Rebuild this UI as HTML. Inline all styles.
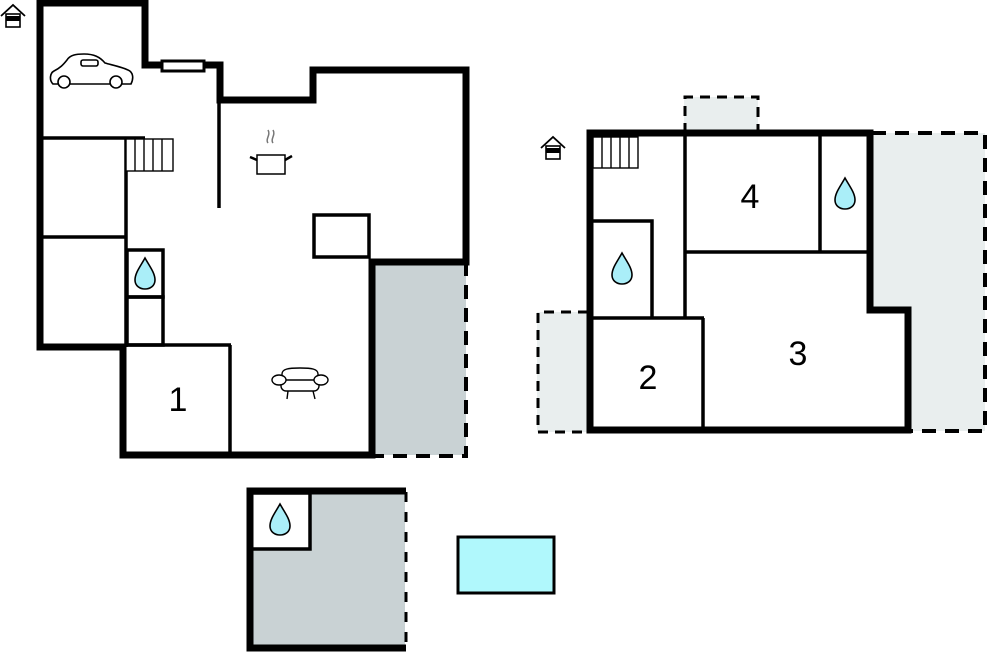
<!DOCTYPE html>
<html><head><meta charset="utf-8"><style>
html,body{margin:0;padding:0;background:#fff;}
svg{display:block;}
text{font-family:"Liberation Sans",sans-serif;}
</style></head><body>
<svg width="989" height="652" viewBox="0 0 989 652" xmlns="http://www.w3.org/2000/svg">
<defs>
<g id="drop"><path d="M0,-17 C5,-8 10,-2 10,5 C10,11 5,14 0,14 C-5,14 -10,11 -10,5 C-10,-2 -5,-8 0,-17Z" fill="#aaeef8" stroke="#000" stroke-width="1.6"/></g>
<g id="house"><path d="M-12,-1 L0,-12 L12,-1" fill="none" stroke="#000" stroke-width="1.8"/><rect x="-7" y="-3" width="14" height="13" fill="#fff" stroke="#000" stroke-width="1.6"/><rect x="-7" y="-1" width="14" height="5" fill="#000"/></g>
</defs>

<rect x="374" y="261" width="92" height="194" fill="#c9d2d4"/>
<path d="M466,262 V456 H374" fill="none" stroke="#000" stroke-width="4" stroke-dasharray="14,9"/>

<g stroke="#000" stroke-width="3.5" fill="none">
<line x1="40" y1="138" x2="145" y2="138"/>
<line x1="126" y1="138" x2="126" y2="347"/>
<line x1="40" y1="237" x2="126" y2="237"/>
<rect x="127" y="250" width="36" height="47"/>
<rect x="127" y="297" width="36" height="48"/>
<line x1="125" y1="345" x2="231" y2="345"/>
<line x1="230" y1="345" x2="230" y2="455"/>
<line x1="219" y1="100" x2="219" y2="208"/>
<rect x="314" y="215" width="55" height="42"/>
</g>
<g stroke="#000" stroke-width="1.4" fill="#fff">
<rect x="126" y="139" width="47" height="32"/>
<line x1="135" y1="139" x2="135" y2="171"/><line x1="144" y1="139" x2="144" y2="171"/><line x1="153" y1="139" x2="153" y2="171"/><line x1="162" y1="139" x2="162" y2="171"/>
</g>
<path d="M204,65 H220 V100 H313 V70 H466 V262 H372 V455 H123 V347 H40 V3 H145 V65 H162" fill="none" stroke="#000" stroke-width="7" stroke-linejoin="miter" stroke-linecap="square"/>
<rect x="162" y="61" width="42" height="10" fill="#fff" stroke="#000" stroke-width="3"/>
<use href="#drop" x="145" y="275"/>

<g fill="none" stroke="#000" stroke-width="1.6">
<path d="M53,84 C49,80 50,73 54,71 C60,68 63,65 67,60 C70,55 76,54 84,54 C94,54 100,57 105,63 C112,65 122,67 128,70 C133,72 134,78 131,84 Z" fill="#fff"/>
<rect x="81" y="60" width="17" height="6" rx="2"/>
<circle cx="64" cy="82" r="6" fill="#fff"/><circle cx="116" cy="82" r="6" fill="#fff"/>
</g>
<g fill="none" stroke="#000" stroke-width="1.5">
<path d="M268,143 c-3,-4 3,-8 0,-13 M273,143 c-3,-4 3,-8 0,-13" stroke="#777"/>
<rect x="257" y="155" width="28" height="19" fill="#fff"/>
<path d="M257,160 L250,157 M285,160 L292,156" stroke-width="2.5"/>
</g>
<g fill="#fff" stroke="#000" stroke-width="1.4">
<path d="M282,384 V374 C282,369 288,368 300,368 C312,368 318,369 318,374 V384"/>
<rect x="281" y="380" width="38" height="11" rx="5"/>
<ellipse cx="279" cy="380" rx="7" ry="5"/><ellipse cx="321" cy="380" rx="7" ry="5"/>
<path d="M288,391 L287,399 M313,391 L315,399" fill="none"/>
</g>
<text x="178" y="411" font-size="34" text-anchor="middle">1</text>
<use href="#house" x="13" y="17"/>

<rect x="684" y="97" width="74" height="36" fill="#e9eeee"/>
<path d="M685,133 V97 H758 V133" fill="none" stroke="#000" stroke-width="3" stroke-dasharray="10,7"/>
<path d="M870,133 H985 V431 H908 V310 H870 Z" fill="#e9eeee"/>
<path d="M872,133 H985 V431 H910" fill="none" stroke="#000" stroke-width="4" stroke-dasharray="14,9"/>
<rect x="537" y="312" width="51" height="120" fill="#e9eeee"/>
<path d="M588,312 H538 V432 H588" fill="none" stroke="#000" stroke-width="3" stroke-dasharray="10,7"/>

<g stroke="#000" stroke-width="3.5" fill="none">
<line x1="685" y1="133" x2="685" y2="318"/>
<line x1="685" y1="252" x2="870" y2="252"/>
<line x1="820" y1="133" x2="820" y2="252"/>
<path d="M591,221 H652 V318"/>
<line x1="590" y1="318" x2="704" y2="318"/>
<line x1="703" y1="318" x2="703" y2="430"/>
</g>
<g stroke="#000" stroke-width="1.4" fill="#fff">
<rect x="593" y="137" width="45" height="31"/>
<line x1="602" y1="137" x2="602" y2="168"/><line x1="611" y1="137" x2="611" y2="168"/><line x1="620" y1="137" x2="620" y2="168"/><line x1="629" y1="137" x2="629" y2="168"/>
</g>
<path d="M590,133 H870 V310 H908 V430 H590 Z" fill="none" stroke="#000" stroke-width="7"/>
<use href="#drop" x="845" y="195"/>
<use href="#drop" x="622" y="270"/>
<text x="750" y="208" font-size="34" text-anchor="middle">4</text>
<text x="798" y="365" font-size="34" text-anchor="middle">3</text>
<text x="648" y="389" font-size="34" text-anchor="middle">2</text>
<use href="#house" x="553" y="149"/>

<rect x="250" y="492" width="155" height="156" fill="#c9d2d4"/>
<rect x="251" y="493" width="59" height="56" fill="#fff" stroke="#000" stroke-width="3.5"/>
<path d="M406,491 H250 V648 H406" fill="none" stroke="#000" stroke-width="7"/>
<line x1="406" y1="492" x2="406" y2="648" stroke="#000" stroke-width="3" stroke-dasharray="10,10"/>
<use href="#drop" x="280" y="521"/>
<rect x="458" y="537" width="96" height="56" fill="#b0f8fc" stroke="#000" stroke-width="3"/>
</svg>
</body></html>
